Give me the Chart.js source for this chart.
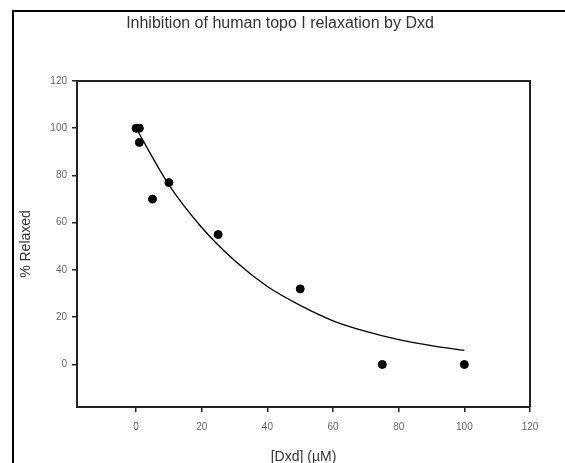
<!DOCTYPE html>
<html>
<head>
<meta charset="utf-8">
<script src="https://cdn.jsdelivr.net/npm/chart.js@4"></script>
<style>
  body { margin: 0; background: #fff; }
  #wrap { width: 565px; height: 463px; }
</style>
</head>
<body>
<div id="wrap"><canvas id="relaxChart" width="565" height="463"></canvas></div>
<script>
// Measured points: [Dxd] (uM) vs % relaxed
const doseValues = [0, 1, 1, 5, 10, 25, 50, 75, 100];
const relaxedValues = [100, 100, 94, 70, 77, 55, 32, 0, 0];

// Fitted curve
const curveDose = [0, 10, 20, 30, 40, 50, 60, 70, 80, 90, 100];
const curveRelaxed = [100, 76, 58, 44, 33, 25, 18.5, 14, 10.5, 8, 6];

// Axis tick labels
const xTicks = [0, 20, 40, 60, 80, 100, 120];
const yTicks = [0, 20, 40, 60, 80, 100, 120];

const chartTitle = 'Inhibition of human topo I relaxation by Dxd';
const fontFamily = "'Liberation Sans', Arial, sans-serif";

// outer frame, title, and top/right sides of the plot box
const framePlugin = {
    id: 'frame',
    beforeDraw(chart) {
        const ctx = chart.ctx;
        ctx.save();
        ctx.strokeStyle = '#000';
        ctx.lineWidth = 2;
        ctx.beginPath();
        ctx.moveTo(13, 463);
        ctx.lineTo(13, 11);
        ctx.lineTo(565, 11);
        ctx.stroke();

        ctx.fillStyle = '#333';
        ctx.font = '16px ' + fontFamily;
        ctx.textAlign = 'center';
        ctx.textBaseline = 'middle';
        ctx.fillText(chartTitle, 280, 24);
        ctx.restore();
    },
    afterDraw(chart) {
        const a = chart.chartArea;
        const ctx = chart.ctx;
        ctx.save();
        ctx.strokeStyle = '#222';
        ctx.lineWidth = 2;
        ctx.beginPath();
        ctx.moveTo(a.left, a.top);
        ctx.lineTo(a.right, a.top);
        ctx.lineTo(a.right, a.bottom);
        ctx.stroke();
        ctx.restore();
    }
};

function createChart() {
    const ctx = document.getElementById('relaxChart').getContext('2d');
    new Chart(ctx, {
        type: 'scatter',
        data: {
            datasets: [{
                label: 'Measured',
                data: doseValues.map((x, i) => ({ x: x, y: relaxedValues[i] })),
                backgroundColor: '#000',
                borderColor: '#000',
                pointRadius: 4,
                pointStyle: 'circle'
            }, {
                label: 'Fit',
                data: curveDose.map((x, i) => ({ x: x, y: curveRelaxed[i] })),
                showLine: true,
                borderColor: '#000',
                borderWidth: 1.3,
                pointRadius: 0,
                cubicInterpolationMode: 'monotone'
            }]
        },
        options: {
            responsive: false,
            animation: false,
            layout: { padding: { left: 0, top: 81, right: 35, bottom: 0 } },
            plugins: {
                legend: { display: false },
                tooltip: { enabled: false },
                title: { display: false }
            },
            scales: {
                x: {
                    type: 'linear',
                    min: -18,
                    max: 120,
                    afterFit: s => { s.height = 56; },
                    afterBuildTicks: s => { s.ticks = xTicks.map(v => ({ value: v })); },
                    border: { display: true, color: '#222', width: 2 },
                    grid: { display: true, drawOnChartArea: false, drawTicks: true, tickLength: 5, color: '#222', lineWidth: 1.5 },
                    ticks: { color: '#666', padding: 9, font: { family: fontFamily, size: 10 }, maxRotation: 0 },
                    title: {
                        display: true,
                        text: '[Dxd] (µM)',
                        color: '#333',
                        font: { family: fontFamily, size: 14, lineHeight: 0.85 },
                        padding: { top: 0, bottom: 0 }
                    }
                },
                y: {
                    type: 'linear',
                    min: -18,
                    max: 120,
                    afterFit: s => { s.width = 77; },
                    afterBuildTicks: s => { s.ticks = yTicks.map(v => ({ value: v })); },
                    border: { display: true, color: '#222', width: 2 },
                    grid: { display: true, drawOnChartArea: false, drawTicks: true, tickLength: 5, color: '#222', lineWidth: 1.5 },
                    ticks: { color: '#666', padding: 5, font: { family: fontFamily, size: 10 } },
                    title: {
                        display: true,
                        text: '% Relaxed',
                        color: '#333',
                        font: { family: fontFamily, size: 14 },
                        padding: { top: 18, bottom: 0 }
                    }
                }
            }
        },
        plugins: [framePlugin]
    });
}

window.onload = createChart;
</script>
</body>
</html>
